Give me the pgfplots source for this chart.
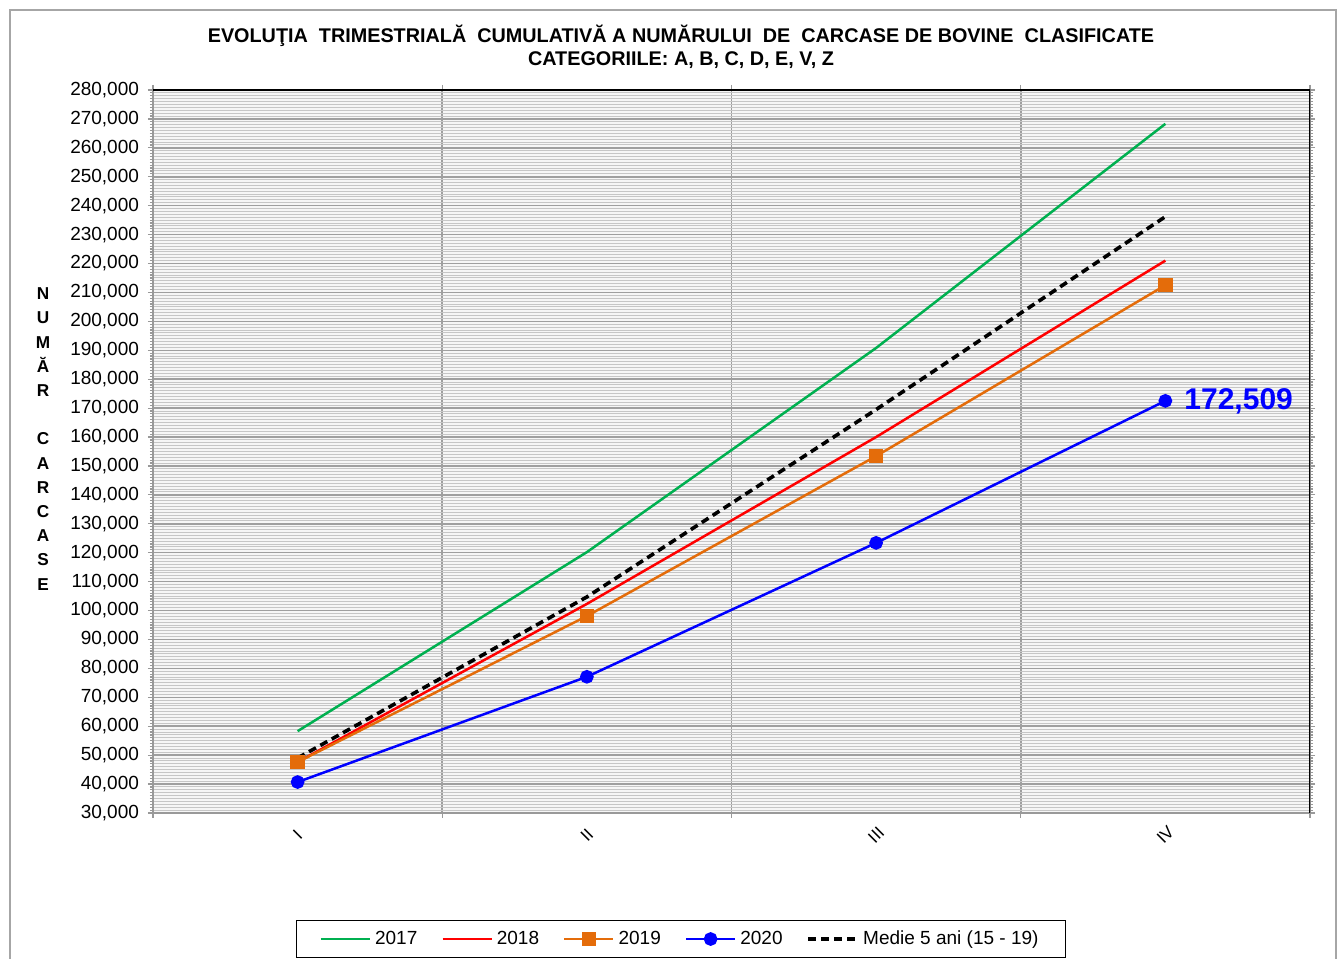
\documentclass[border=0pt]{standalone}
\usepackage{pgfplots}
\pgfplotsset{compat=1.18}
\usepackage{fontspec}
\setmainfont{Liberation Sans}
\definecolor{cg}{RGB}{0,176,80}
\definecolor{cr}{RGB}{255,0,0}
\definecolor{co}{RGB}{228,108,10}
\definecolor{cb}{RGB}{0,0,255}
\begin{document}
\begin{tikzpicture}
\useasboundingbox (0,0) rectangle (670pt,479.5pt);
\draw[gray!70, line width=0.8pt] (5pt,-20pt) -- (5pt,474.5pt) -- (668pt,474.5pt) -- (668pt,-20pt);
\node[align=center, font=\fontsize{9.9}{11.5}\selectfont\bfseries] at (340.5pt,456pt)
  {EVOLUŢIA\ \ TRIMESTRIALĂ\ \ CUMULATIVĂ A NUMĂRULUI\ \ DE\ \ CARCASE DE BOVINE\ \ CLASIFICATE\\CATEGORIILE: A, B, C, D, E, V, Z};
\node[align=center, font=\fontsize{8.6}{12.1}\selectfont\bfseries] at (21.5pt,260pt)
  {N\\U\\M\\Ă\\R\\[12.1pt]C\\A\\R\\C\\A\\S\\E};
\begin{axis}[
  scale only axis,
  at={(76.5pt,73pt)}, anchor=south west,
  width=578.5pt, height=361.5pt,
  xmin=0, xmax=4, ymin=30000, ymax=280000,
  xtick={0,1,2,3,4}, xticklabels={},
  extra x ticks={0.5,1.5,2.5,3.5},
  extra x tick labels={I,II,III,IV},
  extra x tick style={major tick length=0pt, xmajorgrids=false,
     tick label style={rotate=45, anchor=center, xshift=-7.8pt, yshift=-7.8pt, font=\fontsize{8.6}{10}\selectfont}},
  ytick distance=10000,
  scaled y ticks=false,
  minor y tick num=9,
  xmajorgrids, ymajorgrids, yminorgrids,
  major grid style={gray!75, line width=0.75pt},
  minor grid style={gray!45, line width=0.5pt},
  axis background/.style={fill=gray!7},
  axis line style={gray!80, line width=0.8pt},
  tick align=outside,
  major tick length=2.5pt, minor tick length=1.5pt,
  tick style={gray!80, line width=0.6pt},
  y tick label style={font=\fontsize{9.5}{10}\selectfont, xshift=-1pt},
  /pgf/number format/.cd, fixed, 1000 sep={,}, assume math mode=true,
  /pgfplots/.cd,
  legend columns=5,
  legend style={at={(0.4564,-0.1743)}, anchor=center, draw=black, line width=0.8pt,
    font=\fontsize{9.5}{10}\selectfont, inner xsep=11.5pt, inner ysep=3pt,
    /tikz/every even column/.append style={column sep=10pt}},
  legend image code/.code={\draw[mark repeat=2,mark phase=2,#1] plot coordinates {(0pt,0pt) (12.25pt,0pt) (24.5pt,0pt)};},
]
\addplot[cg, line width=1.25pt, no markers] coordinates {(0.5,58300) (1.5,120200) (2.5,190800) (3.5,268300)};
\addlegendentry{2017}
\addplot[cr, line width=1.25pt, no markers] coordinates {(0.5,47600) (1.5,102300) (2.5,160000) (3.5,221000)};
\addlegendentry{2018}
\addplot[co, line width=1.25pt, mark=square*, mark size=3pt, mark options={solid}] coordinates {(0.5,47600) (1.5,98100) (2.5,153400) (3.5,212500)};
\addlegendentry{2019}
\addplot[cb, line width=1.25pt, mark=*, mark size=2.8pt] coordinates {(0.5,40700) (1.5,77100) (2.5,123400) (3.5,172509)};
\addlegendentry{2020}
\addplot[black, line width=1.8pt, dash pattern=on 4pt off 2.5pt, no markers] coordinates {(0.5,49000) (1.5,104700) (2.5,169500) (3.5,236200)};
\addlegendentry{Medie 5 ani (15 - 19)}
\node[anchor=west, text=cb, font=\fontsize{15}{16}\selectfont\bfseries, xshift=6pt] at (axis cs:3.5,172509) {172,509};
\draw[black, line width=0.8pt] (rel axis cs:0,1) -- (rel axis cs:1,1) -- (rel axis cs:1,0);
\end{axis}
\end{tikzpicture}
\end{document}
